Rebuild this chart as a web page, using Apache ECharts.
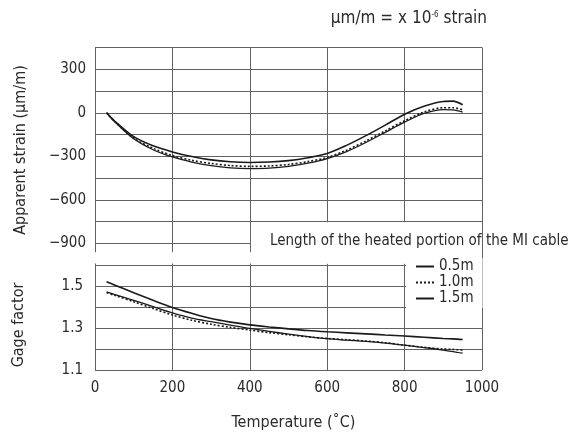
<!DOCTYPE html>
<html><head><meta charset="utf-8">
<script src="https://cdn.jsdelivr.net/npm/echarts@6/dist/echarts.min.js"></script>
<style>html,body{margin:0;padding:0;background:#fff}#c{width:576px;height:432px}</style>
</head><body><div id="c"></div>
<script>
// ---- data ----
const temps = [30,50,100,150,200,250,300,350,400,450,500,550,600,650,700,750,800,850,900,925,950];
const strain05 = [0,-55,-165,-228,-270,-302,-325,-338,-343,-340,-330,-310,-281,-225,-158,-85,-10,45,78,80,55];
const strain10 = [0,-58,-175,-245,-295,-328,-350,-364,-370,-367,-357,-337,-308,-258,-195,-125,-55,5,35,35,20];
const strain15 = [0,-60,-180,-255,-305,-340,-365,-380,-385,-382,-370,-348,-316,-268,-205,-135,-65,-5,22,20,5];
const gf05 = [1.52,1.505,1.468,1.432,1.398,1.37,1.345,1.328,1.315,1.305,1.296,1.288,1.282,1.277,1.272,1.267,1.262,1.256,1.25,1.248,1.245];
const gf10 = [1.468,1.456,1.425,1.393,1.362,1.337,1.318,1.303,1.29,1.278,1.268,1.258,1.25,1.244,1.238,1.23,1.218,1.208,1.2,1.198,1.195];
const gf15 = [1.472,1.46,1.432,1.402,1.372,1.347,1.33,1.314,1.298,1.284,1.271,1.259,1.249,1.242,1.236,1.228,1.218,1.207,1.195,1.188,1.18];
const seriesNames = ['0.5m','1.0m','1.5m'];
const strainLabels = [300,0,-300,-600,-900];
const gfLabels = [1.1,1.3,1.5];
const xLabel = 'Temperature (˚C)';
const yLabelTop = 'Apparent strain (μm/m)';
const yLabelBottom = 'Gage factor';
const legendTitle = 'Length of the heated portion of the MI cable';

// ---- chart ----
const FONT = "'Liberation Sans Narrow','DejaVu Sans Condensed','Liberation Sans',sans-serif";
const TXT = '#2a2a2a';
const GRID = '#626262';
const LINE = '#1a1a1a';
const pair = (xs, ys) => xs.map((x,i)=>[x, ys[i]]);
const styles = [
  {type:'solid', width:1.6},
  {type:[2,2], width:1.6},
  {type:'solid', width:1.3}
];
const split = {show:true, lineStyle:{color:GRID, width:1}};

const chart = echarts.init(document.getElementById('c'), null, {renderer:'canvas'});
const topData = [strain05, strain10, strain15];
const botData = [gf05, gf10, gf15];
const series = [];
seriesNames.forEach((n,i)=>{
  const s = {name:n, type:'line', xAxisIndex:0, yAxisIndex:0, data:pair(temps, topData[i]),
    symbol:'none', smooth:0.3, lineStyle:{color:LINE, type:styles[i].type, width:styles[i].width}, itemStyle:{color:LINE}, z:3};
  if (i===0) {
    s.markArea = {silent:true, itemStyle:{color:'#fff', borderWidth:0},
      data:[[{xAxis:-20, yAxis:-1040},{xAxis:1020, yAxis:-962}],
            [{xAxis:403, yAxis:-1040},{xAxis:1020, yAxis:-755}]]};
  }
  series.push(s);
});
seriesNames.forEach((n,i)=>{
  series.push({name:n, type:'line', xAxisIndex:1, yAxisIndex:1, data:pair(temps, botData[i]),
    symbol:'none', smooth:0.3, lineStyle:{color:LINE, type:styles[i].type, width:styles[i].width}, itemStyle:{color:LINE}, z:3});
});

chart.setOption({
  animation:false,
  backgroundColor:'#fff',
  textStyle:{fontFamily:FONT, color:TXT},
  grid:[
    {left:95, right:94, top:47.5, height:217.5},
    {left:95, right:94, top:265, height:111}
  ],
  xAxis:[
    {type:'value', gridIndex:0, min:0, max:1000, interval:200, axisLabel:{show:false}, axisTick:{show:false}, axisLine:{show:false}, splitLine:split},
    {type:'value', gridIndex:1, min:0, max:1000, interval:200, axisTick:{show:false}, axisLine:{show:false}, splitLine:split,
      axisLabel:{margin:11, fontSize:15, color:TXT, fontFamily:FONT, formatter:v=>String(Math.round(v))},
      name:xLabel, nameLocation:'middle', nameGap:45, nameTextStyle:{fontSize:16, color:TXT, fontFamily:FONT, padding:[0,0,0,10]}}
  ],
  yAxis:[
    {type:'value', gridIndex:0, min:-1050, max:450, interval:150, axisTick:{show:false}, axisLine:{show:false}, splitLine:split,
      axisLabel:{margin:9, fontSize:15, color:TXT, fontFamily:FONT,
        formatter:v=>{const r=Math.round(v); return strainLabels.indexOf(r)>=0 ? String(r).replace('-','\u2212') : '';}}},
    {type:'value', gridIndex:1, min:1.1, max:1.6, interval:0.1, axisTick:{show:false}, axisLine:{show:false}, splitLine:split,
      axisLabel:{margin:12, fontSize:15, color:TXT, fontFamily:FONT,
        formatter:v=>{const r=Math.round(v*10)/10; return gfLabels.indexOf(r)>=0 ? r.toFixed(1) : '';}}}
  ],
  legend:{
    data:seriesNames, orient:'vertical', left:406, top:258, itemWidth:18, itemHeight:10, itemGap:1,
    backgroundColor:'#fff', padding:[1,9,2,9],
    itemStyle:{opacity:0},
    textStyle:{fontSize:15, lineHeight:15, color:TXT, fontFamily:FONT}
  },
  graphic:[
    {type:'text', z:100, x:487, y:19, style:{
      text:'{a|μm/m = x 10}{s|-6}{a| strain}', align:'right', verticalAlign:'middle', fill:TXT,
      rich:{a:{fontSize:17, fontFamily:FONT, fill:TXT}, s:{fontSize:8, fontFamily:FONT, fill:TXT, verticalAlign:'top', padding:[0,0,6,0]}}}},
    {type:'text', z:100, x:270, y:241, style:{text:legendTitle, fontSize:15, fontFamily:FONT, fill:TXT, align:'left', verticalAlign:'middle'}},
    {type:'text', z:100, x:21, y:150, rotation:Math.PI/2, style:{text:yLabelTop, fontSize:16, fontFamily:FONT, fill:TXT, align:'center', verticalAlign:'middle'}},
    {type:'text', z:100, x:19, y:325, rotation:Math.PI/2, style:{text:yLabelBottom, fontSize:16, fontFamily:FONT, fill:TXT, align:'center', verticalAlign:'middle'}}
  ],
  series:series
});
</script></body></html>
